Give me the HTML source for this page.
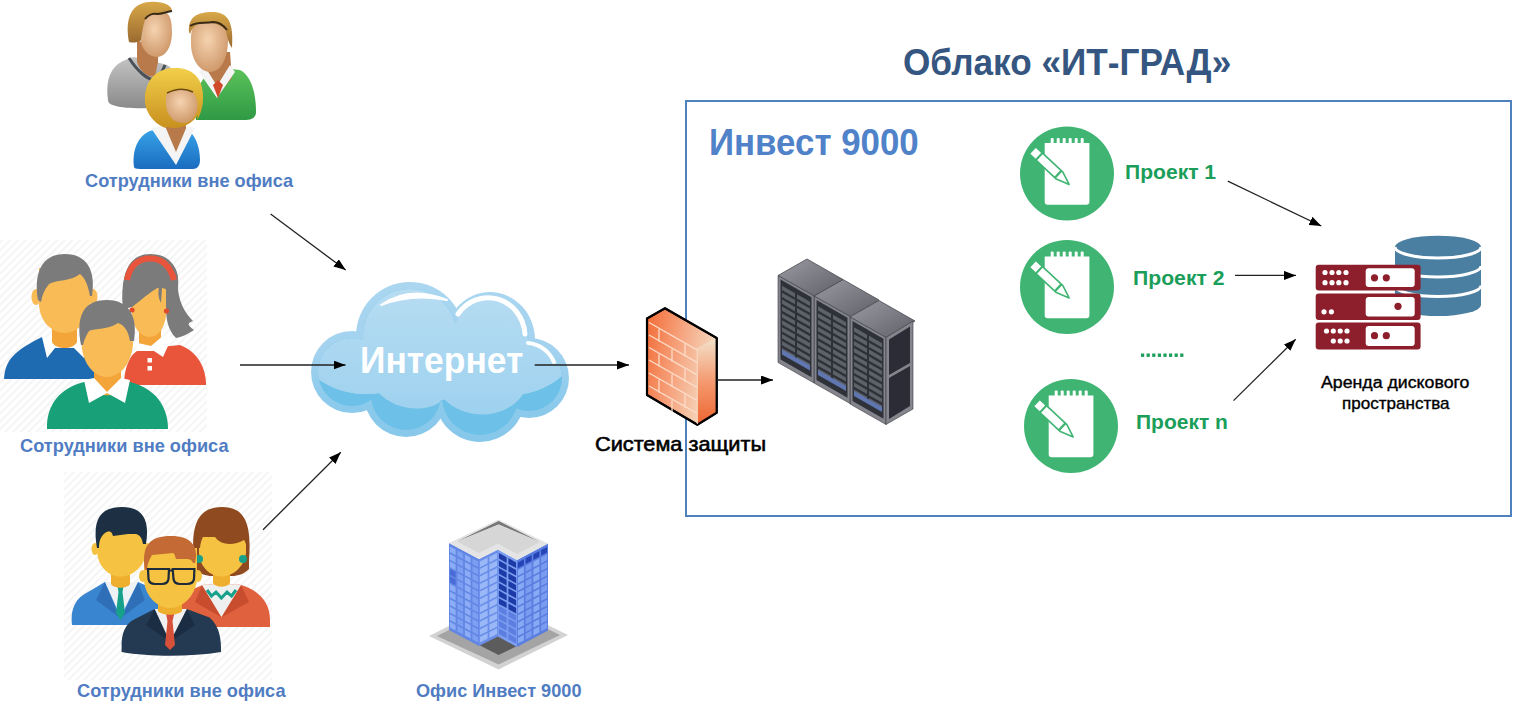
<!DOCTYPE html>
<html><head><meta charset="utf-8">
<style>
html,body{margin:0;padding:0;background:#fff;}
body{width:1513px;height:714px;position:relative;overflow:hidden;font-family:"Liberation Sans",sans-serif;}
svg.g{position:absolute;left:0;top:0;}
.t{position:absolute;white-space:pre;line-height:1;transform-origin:0 0;}
</style></head><body>
<svg class="g" width="1513" height="714" viewBox="0 0 1513 714">
<defs>
<marker id="ah" markerUnits="userSpaceOnUse" markerWidth="13" markerHeight="9" refX="12" refY="4.5" orient="auto">
  <path d="M0,0 L12,4.5 L0,9 z" fill="#000"/>
</marker>
<pattern id="stripes" patternUnits="userSpaceOnUse" width="5.5" height="5.5" patternTransform="rotate(45)">
  <rect width="5.5" height="5.5" fill="#fff"/><rect width="2.2" height="5.5" fill="#f5f5f5"/>
</pattern>
<linearGradient id="cloudBody" gradientUnits="userSpaceOnUse" x1="0" y1="290" x2="0" y2="420">
  <stop offset="0" stop-color="#b6dcf2"/><stop offset="1" stop-color="#9dd1ef"/>
</linearGradient>
<linearGradient id="cloudRim" gradientUnits="userSpaceOnUse" x1="0" y1="282" x2="0" y2="443">
  <stop offset="0" stop-color="#aad6f0"/><stop offset="0.45" stop-color="#a2d2ef"/><stop offset="0.7" stop-color="#8ecbec"/><stop offset="1" stop-color="#86c7ea"/>
</linearGradient>
<linearGradient id="fwFront" x1="0" y1="0" x2="1" y2="0.3">
  <stop offset="0" stop-color="#f26a34"/><stop offset="0.55" stop-color="#f6a884"/><stop offset="1" stop-color="#f4d9c0"/>
</linearGradient>
<linearGradient id="fwSide" x1="0" y1="0" x2="0" y2="1">
  <stop offset="0" stop-color="#f3e3cc"/><stop offset="0.5" stop-color="#f49a70"/><stop offset="1" stop-color="#ee6530"/>
</linearGradient>
<linearGradient id="rackTop" x1="0" y1="0" x2="1" y2="1">
  <stop offset="0" stop-color="#9a9aa2"/><stop offset="1" stop-color="#5f6068"/>
</linearGradient>
<linearGradient id="bldL" x1="0" y1="0" x2="0" y2="1">
  <stop offset="0" stop-color="#84a6f0"/><stop offset="1" stop-color="#4f74d8"/>
</linearGradient>
<linearGradient id="bldR" x1="0" y1="0" x2="0" y2="1">
  <stop offset="0" stop-color="#7c9eee"/><stop offset="1" stop-color="#4a6fd6"/>
</linearGradient>
<linearGradient id="grayShirt" x1="0" y1="0" x2="0" y2="1">
  <stop offset="0" stop-color="#c4c4c4"/><stop offset="1" stop-color="#8a8a8a"/>
</linearGradient>
<linearGradient id="greenShirt" x1="0" y1="0" x2="0" y2="1">
  <stop offset="0" stop-color="#5cc25a"/><stop offset="1" stop-color="#2f9a45"/>
</linearGradient>
<linearGradient id="blueShirt" x1="0" y1="0" x2="0" y2="1">
  <stop offset="0" stop-color="#3aa6ea"/><stop offset="1" stop-color="#1a6cc0"/>
</linearGradient>
<radialGradient id="skin" cx="0.45" cy="0.4" r="0.6">
  <stop offset="0" stop-color="#f5d3b0"/><stop offset="1" stop-color="#d09a6c"/>
</radialGradient>
<linearGradient id="hairBrown" x1="0" y1="0" x2="0" y2="1">
  <stop offset="0" stop-color="#d8a848"/><stop offset="1" stop-color="#9a6a30"/>
</linearGradient>
<linearGradient id="hairBlonde" x1="0" y1="0" x2="0" y2="1">
  <stop offset="0" stop-color="#f2cf4a"/><stop offset="1" stop-color="#c8901e"/>
</linearGradient>
</defs>
<rect x="686" y="101" width="825" height="415" fill="none" stroke="#4f81bd" stroke-width="2"/>
<rect x="0" y="240" width="207" height="192" fill="url(#stripes)"/>
<rect x="64" y="472" width="208" height="208" fill="url(#stripes)"/>
<g transform="translate(1067,173.5)"><circle r="47" fill="#40b573"/><path d="M-22.3,-30.5 H22.4 V28.2 Q22.4,31.2 19.4,31.2 H-19.3 Q-22.3,31.2 -22.3,28.2 Z" fill="#fff"/><rect x="-16.3" y="-35.6" width="3" height="6" rx="1.2" fill="#fff"/><rect x="-10.3" y="-35.6" width="3" height="6" rx="1.2" fill="#fff"/><rect x="-4.3" y="-35.6" width="3" height="6" rx="1.2" fill="#fff"/><rect x="1.7" y="-35.6" width="3" height="6" rx="1.2" fill="#fff"/><rect x="7.7" y="-35.6" width="3" height="6" rx="1.2" fill="#fff"/><rect x="13.7" y="-35.6" width="3" height="6" rx="1.2" fill="#fff"/><g transform="translate(-34.4,-23.2) rotate(43.1)"><path d="M0,-4.8 H37 L50,0 L37,4.8 H0 Z" fill="#fff" stroke="#40b573" stroke-width="1.6" stroke-linejoin="round"/><path d="M9,-4.8 V4.8" stroke="#40b573" stroke-width="2"/><path d="M35,-4.8 V4.8" stroke="#40b573" stroke-width="2.4"/></g></g>
<g transform="translate(1067,287)"><circle r="47" fill="#40b573"/><path d="M-22.3,-30.5 H22.4 V28.2 Q22.4,31.2 19.4,31.2 H-19.3 Q-22.3,31.2 -22.3,28.2 Z" fill="#fff"/><rect x="-16.3" y="-35.6" width="3" height="6" rx="1.2" fill="#fff"/><rect x="-10.3" y="-35.6" width="3" height="6" rx="1.2" fill="#fff"/><rect x="-4.3" y="-35.6" width="3" height="6" rx="1.2" fill="#fff"/><rect x="1.7" y="-35.6" width="3" height="6" rx="1.2" fill="#fff"/><rect x="7.7" y="-35.6" width="3" height="6" rx="1.2" fill="#fff"/><rect x="13.7" y="-35.6" width="3" height="6" rx="1.2" fill="#fff"/><g transform="translate(-34.4,-23.2) rotate(43.1)"><path d="M0,-4.8 H37 L50,0 L37,4.8 H0 Z" fill="#fff" stroke="#40b573" stroke-width="1.6" stroke-linejoin="round"/><path d="M9,-4.8 V4.8" stroke="#40b573" stroke-width="2"/><path d="M35,-4.8 V4.8" stroke="#40b573" stroke-width="2.4"/></g></g>
<g transform="translate(1071,426)"><circle r="47" fill="#40b573"/><path d="M-22.3,-30.5 H22.4 V28.2 Q22.4,31.2 19.4,31.2 H-19.3 Q-22.3,31.2 -22.3,28.2 Z" fill="#fff"/><rect x="-16.3" y="-35.6" width="3" height="6" rx="1.2" fill="#fff"/><rect x="-10.3" y="-35.6" width="3" height="6" rx="1.2" fill="#fff"/><rect x="-4.3" y="-35.6" width="3" height="6" rx="1.2" fill="#fff"/><rect x="1.7" y="-35.6" width="3" height="6" rx="1.2" fill="#fff"/><rect x="7.7" y="-35.6" width="3" height="6" rx="1.2" fill="#fff"/><rect x="13.7" y="-35.6" width="3" height="6" rx="1.2" fill="#fff"/><g transform="translate(-34.4,-23.2) rotate(43.1)"><path d="M0,-4.8 H37 L50,0 L37,4.8 H0 Z" fill="#fff" stroke="#40b573" stroke-width="1.6" stroke-linejoin="round"/><path d="M9,-4.8 V4.8" stroke="#40b573" stroke-width="2"/><path d="M35,-4.8 V4.8" stroke="#40b573" stroke-width="2.4"/></g></g>
<g fill="#4a7fa1"><rect x="1395" y="247" width="86" height="58"/><ellipse cx="1438" cy="247" rx="43" ry="11.3"/><ellipse cx="1438" cy="305" rx="43" ry="11"/></g>
<path d="M1395,247 A43,11 0 0 0 1481,247" fill="none" stroke="#fff" stroke-width="3"/>
<path d="M1395,266 A43,11 0 0 0 1481,266" fill="none" stroke="#fff" stroke-width="3"/>
<path d="M1395,285.5 A43,11 0 0 0 1481,285.5" fill="none" stroke="#fff" stroke-width="3"/>
<rect x="1315.7" y="264.7" width="104.9" height="25.9" rx="3" fill="#8c1f2b"/>
<rect x="1365.7" y="268.2" width="49" height="18.9" rx="3" fill="#fff"/>
<rect x="1315.7" y="293.5" width="104.9" height="26.5" rx="3" fill="#8c1f2b"/>
<rect x="1365.7" y="297.0" width="49" height="19.5" rx="3" fill="#fff"/>
<rect x="1315.7" y="322.4" width="104.9" height="27.0" rx="3" fill="#8c1f2b"/>
<rect x="1365.7" y="325.9" width="49" height="20.0" rx="3" fill="#fff"/>
<circle cx="1374.5" cy="277.8" r="3.6" fill="#8c1f2b"/>
<circle cx="1386.3" cy="277.8" r="3.6" fill="#8c1f2b"/>
<circle cx="1398" cy="306.3" r="3.6" fill="#8c1f2b"/>
<circle cx="1374.5" cy="335.7" r="3.6" fill="#8c1f2b"/>
<circle cx="1386.3" cy="335.7" r="3.6" fill="#8c1f2b"/>
<circle cx="1325" cy="272.5" r="2.6" fill="#fff"/>
<circle cx="1332" cy="272.5" r="2.6" fill="#fff"/>
<circle cx="1338.8" cy="272.5" r="2.6" fill="#fff"/>
<circle cx="1346" cy="272.5" r="2.6" fill="#fff"/>
<circle cx="1325" cy="282.7" r="2.6" fill="#fff"/>
<circle cx="1332" cy="282.7" r="2.6" fill="#fff"/>
<circle cx="1338.8" cy="282.7" r="2.6" fill="#fff"/>
<circle cx="1346" cy="282.7" r="2.6" fill="#fff"/>
<circle cx="1324" cy="311.8" r="2.6" fill="#fff"/>
<circle cx="1331.4" cy="311.8" r="2.6" fill="#fff"/>
<circle cx="1326.5" cy="331" r="2.6" fill="#fff"/>
<circle cx="1333.3" cy="331" r="2.6" fill="#fff"/>
<circle cx="1340.2" cy="331" r="2.6" fill="#fff"/>
<circle cx="1347" cy="331" r="2.6" fill="#fff"/>
<circle cx="1333.3" cy="341" r="2.6" fill="#fff"/>
<circle cx="1340.2" cy="341" r="2.6" fill="#fff"/>
<circle cx="1347" cy="341" r="2.6" fill="#fff"/>
<rect x="1141.0" y="353.5" width="3.2" height="3.4" fill="#1a9e5a"/>
<rect x="1146.6" y="353.5" width="3.2" height="3.4" fill="#1a9e5a"/>
<rect x="1152.2" y="353.5" width="3.2" height="3.4" fill="#1a9e5a"/>
<rect x="1157.8" y="353.5" width="3.2" height="3.4" fill="#1a9e5a"/>
<rect x="1163.4" y="353.5" width="3.2" height="3.4" fill="#1a9e5a"/>
<rect x="1169.0" y="353.5" width="3.2" height="3.4" fill="#1a9e5a"/>
<rect x="1174.6" y="353.5" width="3.2" height="3.4" fill="#1a9e5a"/>
<rect x="1180.2" y="353.5" width="3.2" height="3.4" fill="#1a9e5a"/>
<clipPath id="cloudClip"><ellipse cx="410" cy="336" rx="47" ry="47"/><ellipse cx="490" cy="340" rx="38" ry="41"/><ellipse cx="529" cy="378" rx="33" ry="33"/><ellipse cx="352" cy="372" rx="34" ry="34"/><ellipse cx="406" cy="395" rx="35" ry="35"/><ellipse cx="480" cy="397" rx="38" ry="38"/><rect x="350" y="345" width="180" height="55"/></clipPath>
<g fill="url(#cloudRim)" ><ellipse cx="410" cy="336" rx="54" ry="54"/><ellipse cx="490" cy="340" rx="45" ry="48"/><ellipse cx="529" cy="378" rx="40" ry="40"/><ellipse cx="352" cy="372" rx="41" ry="41"/><ellipse cx="406" cy="395" rx="42" ry="42"/><ellipse cx="480" cy="397" rx="45" ry="45"/><rect x="357" y="345" width="180" height="55"/></g>
<g fill="#6dc0e7" ><ellipse cx="410" cy="336" rx="47" ry="47"/><ellipse cx="490" cy="340" rx="38" ry="41"/><ellipse cx="529" cy="378" rx="33" ry="33"/><ellipse cx="352" cy="372" rx="34" ry="34"/><ellipse cx="406" cy="395" rx="35" ry="35"/><ellipse cx="480" cy="397" rx="38" ry="38"/><rect x="350" y="345" width="180" height="55"/></g>
<clipPath id="bodyClip"><path d="M300,250 L300,360 C316,386 350,398 379,393 C396,411 428,414 444,399 C464,420 505,421 523,394 C540,392 560,382 575,362 L575,250 Z"/></clipPath>
<g clip-path="url(#bodyClip)"><g fill="url(#cloudBody)" ><ellipse cx="410" cy="336" rx="47" ry="47"/><ellipse cx="490" cy="340" rx="38" ry="41"/><ellipse cx="529" cy="378" rx="33" ry="33"/><ellipse cx="352" cy="372" rx="34" ry="34"/><ellipse cx="406" cy="395" rx="35" ry="35"/><ellipse cx="480" cy="397" rx="38" ry="38"/><rect x="350" y="345" width="180" height="55"/></g></g>
<path d="M381,305 Q410,285 447,300 Q412,293 381,305 Z" fill="#fff" stroke="#fff" stroke-width="2" stroke-linejoin="round"/>
<path d="M458,314 A37,39 0 0 1 525,334" fill="none" stroke="#fff" stroke-width="5" stroke-linecap="round"/>
<path d="M528,343 A31,31 0 0 1 554,362" fill="none" stroke="#fff" stroke-width="4" stroke-linecap="round"/>
<g stroke="#000" stroke-width="2" stroke-linejoin="round">
<path d="M647,318.5 L665,308.3 L716.7,338 L716.7,412.7 L697.3,424.7 L647,395 Z" fill="url(#fwFront)"/>
</g>
<path d="M697.3,348 L716.7,338 L716.7,412.7 L697.3,424.7 Z" fill="url(#fwSide)"/>
<path d="M647,318.5 L665,308.3 L716.7,338 L716.7,412.7 L697.3,424.7 L647,395 Z" fill="none" stroke="#000" stroke-width="2.2" stroke-linejoin="round"/>
<path d="M649,322.5 L697,349.9 M649,335 L697,362.4 M649,347.5 L697,374.9 M649,360 L697,387.4 M649,373 L697,400.4 M649,386 L697,413.4 M659,329.3 L659,341.8 M685,344.2 L685,356.7 M672,349.2 L672,361.8 M659,354.3 L659,366.8 M685,369.2 L685,381.7 M672,374.2 L672,387.2 M659,379.8 L659,392.8 M685,394.7 L685,407.7 M672,400.2 L672,412.2" stroke="#fcdcc8" stroke-width="1.3" fill="none"/>
<path d="M697.3,348 L697.3,424" stroke="#f9dcc6" stroke-width="1"/>
<path d="M850,317 L879,300.5 L915,321.0 L886,337.5 Z" fill="url(#rackTop)" stroke="#4a4a52" stroke-width="0.8"/><path d="M850,317 L886,337.5 L886,424.5 L850,404 Z" fill="#84858c" stroke="#3a3a40" stroke-width="0.6"/><path d="M852.5,321 L883.5,338.7 L883.5,418.7 L852.5,401 Z" fill="#2e3138"/><path d="M854.0,327.3 l13,7.4 v4.2 l-13,-7.4 Z" fill="#5d6168"/><path d="M869.0,335.8 l13,7.4 v4.2 l-13,-7.4 Z" fill="#5d6168"/><path d="M854.0,334.2 l13,7.4 v4.2 l-13,-7.4 Z" fill="#5d6168"/><path d="M869.0,342.7 l13,7.4 v4.2 l-13,-7.4 Z" fill="#5d6168"/><path d="M854.0,341.1 l13,7.4 v4.2 l-13,-7.4 Z" fill="#5d6168"/><path d="M869.0,349.6 l13,7.4 v4.2 l-13,-7.4 Z" fill="#5d6168"/><path d="M854.0,348.0 l13,7.4 v4.2 l-13,-7.4 Z" fill="#5d6168"/><path d="M869.0,356.5 l13,7.4 v4.2 l-13,-7.4 Z" fill="#5d6168"/><path d="M854.0,354.9 l13,7.4 v4.2 l-13,-7.4 Z" fill="#5d6168"/><path d="M869.0,363.4 l13,7.4 v4.2 l-13,-7.4 Z" fill="#5d6168"/><path d="M854.0,361.8 l13,7.4 v4.2 l-13,-7.4 Z" fill="#5d6168"/><path d="M869.0,370.3 l13,7.4 v4.2 l-13,-7.4 Z" fill="#5d6168"/><path d="M854.0,368.7 l13,7.4 v4.2 l-13,-7.4 Z" fill="#5d6168"/><path d="M869.0,377.2 l13,7.4 v4.2 l-13,-7.4 Z" fill="#5d6168"/><path d="M854.0,375.6 l13,7.4 v4.2 l-13,-7.4 Z" fill="#5d6168"/><path d="M869.0,384.1 l13,7.4 v4.2 l-13,-7.4 Z" fill="#5d6168"/><path d="M854.0,382.5 l13,7.4 v4.2 l-13,-7.4 Z" fill="#5d6168"/><path d="M869.0,391.0 l13,7.4 v4.2 l-13,-7.4 Z" fill="#5d6168"/><path d="M854.0,389.4 l13,7.4 v4.2 l-13,-7.4 Z" fill="#5d6168"/><path d="M869.0,397.9 l13,7.4 v4.2 l-13,-7.4 Z" fill="#5d6168"/><path d="M854.0,391 L882.0,407.0 v5 L854.0,396 Z" fill="#5f76b0"/>
<path d="M814,296 L843,279.5 L879,300.0 L850,316.5 Z" fill="url(#rackTop)" stroke="#4a4a52" stroke-width="0.8"/><path d="M814,296 L850,316.5 L850,403.5 L814,383 Z" fill="#84858c" stroke="#3a3a40" stroke-width="0.6"/><path d="M816.5,300 L847.5,317.7 L847.5,397.7 L816.5,380 Z" fill="#2e3138"/><path d="M818.0,306.3 l13,7.4 v4.2 l-13,-7.4 Z" fill="#5d6168"/><path d="M833.0,314.8 l13,7.4 v4.2 l-13,-7.4 Z" fill="#5d6168"/><path d="M818.0,313.2 l13,7.4 v4.2 l-13,-7.4 Z" fill="#5d6168"/><path d="M833.0,321.7 l13,7.4 v4.2 l-13,-7.4 Z" fill="#5d6168"/><path d="M818.0,320.1 l13,7.4 v4.2 l-13,-7.4 Z" fill="#5d6168"/><path d="M833.0,328.6 l13,7.4 v4.2 l-13,-7.4 Z" fill="#5d6168"/><path d="M818.0,327.0 l13,7.4 v4.2 l-13,-7.4 Z" fill="#5d6168"/><path d="M833.0,335.5 l13,7.4 v4.2 l-13,-7.4 Z" fill="#5d6168"/><path d="M818.0,333.9 l13,7.4 v4.2 l-13,-7.4 Z" fill="#5d6168"/><path d="M833.0,342.4 l13,7.4 v4.2 l-13,-7.4 Z" fill="#5d6168"/><path d="M818.0,340.8 l13,7.4 v4.2 l-13,-7.4 Z" fill="#5d6168"/><path d="M833.0,349.3 l13,7.4 v4.2 l-13,-7.4 Z" fill="#5d6168"/><path d="M818.0,347.7 l13,7.4 v4.2 l-13,-7.4 Z" fill="#5d6168"/><path d="M833.0,356.2 l13,7.4 v4.2 l-13,-7.4 Z" fill="#5d6168"/><path d="M818.0,354.6 l13,7.4 v4.2 l-13,-7.4 Z" fill="#5d6168"/><path d="M833.0,363.1 l13,7.4 v4.2 l-13,-7.4 Z" fill="#5d6168"/><path d="M818.0,361.5 l13,7.4 v4.2 l-13,-7.4 Z" fill="#5d6168"/><path d="M833.0,370.0 l13,7.4 v4.2 l-13,-7.4 Z" fill="#5d6168"/><path d="M818.0,368.4 l13,7.4 v4.2 l-13,-7.4 Z" fill="#5d6168"/><path d="M833.0,376.9 l13,7.4 v4.2 l-13,-7.4 Z" fill="#5d6168"/><path d="M818.0,370 L846.0,386.0 v5 L818.0,375 Z" fill="#5f76b0"/>
<path d="M778,275.5 L807,259.0 L843,279.5 L814,296.0 Z" fill="url(#rackTop)" stroke="#4a4a52" stroke-width="0.8"/><path d="M778,275.5 L814,296.0 L814,383.0 L778,362.5 Z" fill="#84858c" stroke="#3a3a40" stroke-width="0.6"/><path d="M780.5,279.5 L811.5,297.2 L811.5,377.2 L780.5,359.5 Z" fill="#2e3138"/><path d="M782.0,285.8 l13,7.4 v4.2 l-13,-7.4 Z" fill="#5d6168"/><path d="M797.0,294.3 l13,7.4 v4.2 l-13,-7.4 Z" fill="#5d6168"/><path d="M782.0,292.7 l13,7.4 v4.2 l-13,-7.4 Z" fill="#5d6168"/><path d="M797.0,301.2 l13,7.4 v4.2 l-13,-7.4 Z" fill="#5d6168"/><path d="M782.0,299.6 l13,7.4 v4.2 l-13,-7.4 Z" fill="#5d6168"/><path d="M797.0,308.1 l13,7.4 v4.2 l-13,-7.4 Z" fill="#5d6168"/><path d="M782.0,306.5 l13,7.4 v4.2 l-13,-7.4 Z" fill="#5d6168"/><path d="M797.0,315.0 l13,7.4 v4.2 l-13,-7.4 Z" fill="#5d6168"/><path d="M782.0,313.4 l13,7.4 v4.2 l-13,-7.4 Z" fill="#5d6168"/><path d="M797.0,321.9 l13,7.4 v4.2 l-13,-7.4 Z" fill="#5d6168"/><path d="M782.0,320.3 l13,7.4 v4.2 l-13,-7.4 Z" fill="#5d6168"/><path d="M797.0,328.8 l13,7.4 v4.2 l-13,-7.4 Z" fill="#5d6168"/><path d="M782.0,327.2 l13,7.4 v4.2 l-13,-7.4 Z" fill="#5d6168"/><path d="M797.0,335.7 l13,7.4 v4.2 l-13,-7.4 Z" fill="#5d6168"/><path d="M782.0,334.1 l13,7.4 v4.2 l-13,-7.4 Z" fill="#5d6168"/><path d="M797.0,342.6 l13,7.4 v4.2 l-13,-7.4 Z" fill="#5d6168"/><path d="M782.0,341.0 l13,7.4 v4.2 l-13,-7.4 Z" fill="#5d6168"/><path d="M797.0,349.5 l13,7.4 v4.2 l-13,-7.4 Z" fill="#5d6168"/><path d="M782.0,347.9 l13,7.4 v4.2 l-13,-7.4 Z" fill="#5d6168"/><path d="M797.0,356.4 l13,7.4 v4.2 l-13,-7.4 Z" fill="#5d6168"/><path d="M782.0,349.5 L810.0,365.5 v5 L782.0,354.5 Z" fill="#5f76b0"/>
<path d="M886,337.5 L913,321 L913,409 L886,424.5 Z" fill="#85868d" stroke="#3a3a40" stroke-width="0.6"/>
<path d="M889,339.5 L910,326.5 L910,363 L889,375 Z" fill="#2c2c36"/>
<path d="M889,378 L910,366 L910,406 L889,419 Z" fill="#2c2c36"/>
<path d="M429,636 L498.6,601 L568,635 L498.6,669.5 Z" fill="#d2d2d2"/>
<path d="M437,636 L498.6,605 L560,635 L498.6,664.5 Z" fill="#a4a4a4"/>
<path d="M479,645 L498,635.5 L517,646 L498.6,655 Z" fill="#5c5c5c"/>
<path d="M449,543 L479,559 L479,646 L449,630 Z" fill="#6286e4"/><path d="M449.9,546.4 L455.6,549.4 v5.7 L449.9,552.1 Z" fill="#8cadf6"/><path d="M457.4,550.4 L463.1,553.4 v5.7 L457.4,556.1 Z" fill="#7c9ff2"/><path d="M464.9,554.4 L470.6,557.4 v5.7 L464.9,560.1 Z" fill="#8cadf6"/><path d="M472.4,558.4 L478.1,561.4 v5.7 L472.4,564.1 Z" fill="#7c9ff2"/><path d="M449.9,553.9 L455.6,557.0 v5.7 L449.9,559.7 Z" fill="#8cadf6"/><path d="M457.4,557.9 L463.1,561.0 v5.7 L457.4,563.7 Z" fill="#7c9ff2"/><path d="M464.9,561.9 L470.6,565.0 v5.7 L464.9,567.7 Z" fill="#8cadf6"/><path d="M472.4,565.9 L478.1,569.0 v5.7 L472.4,571.7 Z" fill="#7c9ff2"/><path d="M449.9,561.5 L455.6,564.5 v5.7 L449.9,567.2 Z" fill="#8cadf6"/><path d="M457.4,565.5 L463.1,568.5 v5.7 L457.4,571.2 Z" fill="#7c9ff2"/><path d="M464.9,569.5 L470.6,572.5 v5.7 L464.9,575.2 Z" fill="#8cadf6"/><path d="M472.4,573.5 L478.1,576.5 v5.7 L472.4,579.2 Z" fill="#7c9ff2"/><path d="M449.9,569.0 L455.6,572.1 v5.7 L449.9,574.8 Z" fill="#4a6cd8"/><path d="M457.4,573.0 L463.1,576.1 v5.7 L457.4,578.8 Z" fill="#7c9ff2"/><path d="M464.9,577.0 L470.6,580.1 v5.7 L464.9,582.8 Z" fill="#8cadf6"/><path d="M472.4,581.0 L478.1,584.1 v5.7 L472.4,586.8 Z" fill="#7c9ff2"/><path d="M449.9,576.6 L455.6,579.6 v5.7 L449.9,582.3 Z" fill="#4a6cd8"/><path d="M457.4,580.6 L463.1,583.6 v5.7 L457.4,586.3 Z" fill="#7c9ff2"/><path d="M464.9,584.6 L470.6,587.6 v5.7 L464.9,590.3 Z" fill="#8cadf6"/><path d="M472.4,588.6 L478.1,591.6 v5.7 L472.4,594.3 Z" fill="#7c9ff2"/><path d="M449.9,584.1 L455.6,587.1 v5.7 L449.9,589.9 Z" fill="#8cadf6"/><path d="M457.4,588.1 L463.1,591.1 v5.7 L457.4,593.9 Z" fill="#7c9ff2"/><path d="M464.9,592.1 L470.6,595.1 v5.7 L464.9,597.9 Z" fill="#8cadf6"/><path d="M472.4,596.1 L478.1,599.1 v5.7 L472.4,601.9 Z" fill="#7c9ff2"/><path d="M449.9,591.7 L455.6,594.7 v5.7 L449.9,597.4 Z" fill="#8cadf6"/><path d="M457.4,595.7 L463.1,598.7 v5.7 L457.4,601.4 Z" fill="#7c9ff2"/><path d="M464.9,599.7 L470.6,602.7 v5.7 L464.9,605.4 Z" fill="#8cadf6"/><path d="M472.4,603.7 L478.1,606.7 v5.7 L472.4,609.4 Z" fill="#7c9ff2"/><path d="M449.9,599.2 L455.6,602.2 v5.7 L449.9,604.9 Z" fill="#8cadf6"/><path d="M457.4,603.2 L463.1,606.2 v5.7 L457.4,608.9 Z" fill="#7c9ff2"/><path d="M464.9,607.2 L470.6,610.2 v5.7 L464.9,612.9 Z" fill="#8cadf6"/><path d="M472.4,611.2 L478.1,614.2 v5.7 L472.4,616.9 Z" fill="#7c9ff2"/><path d="M449.9,606.7 L455.6,609.8 v5.7 L449.9,612.5 Z" fill="#8cadf6"/><path d="M457.4,610.7 L463.1,613.8 v5.7 L457.4,616.5 Z" fill="#7c9ff2"/><path d="M464.9,614.7 L470.6,617.8 v5.7 L464.9,620.5 Z" fill="#8cadf6"/><path d="M472.4,618.7 L478.1,621.8 v5.7 L472.4,624.5 Z" fill="#7c9ff2"/><path d="M449.9,614.3 L455.6,617.3 v5.7 L449.9,620.0 Z" fill="#8cadf6"/><path d="M457.4,618.3 L463.1,621.3 v5.7 L457.4,624.0 Z" fill="#7c9ff2"/><path d="M464.9,622.3 L470.6,625.3 v5.7 L464.9,628.0 Z" fill="#8cadf6"/><path d="M472.4,626.3 L478.1,629.3 v5.7 L472.4,632.0 Z" fill="#7c9ff2"/><path d="M449.9,621.8 L455.6,624.9 v5.7 L449.9,627.6 Z" fill="#8cadf6"/><path d="M457.4,625.8 L463.1,628.9 v5.7 L457.4,631.6 Z" fill="#7c9ff2"/><path d="M464.9,629.8 L470.6,632.9 v5.7 L464.9,635.6 Z" fill="#8cadf6"/><path d="M472.4,633.8 L478.1,636.9 v5.7 L472.4,639.6 Z" fill="#7c9ff2"/>
<path d="M479,559 L498,549.5 L498,636.5 L479,646 Z" fill="#6a8ee8"/><path d="M479.9,561.4 L487.6,557.6 v5.7 L479.9,567.2 Z" fill="#9ab8f8"/><path d="M489.4,556.7 L497.1,552.9 v5.7 L489.4,562.4 Z" fill="#9ab8f8"/><path d="M479.9,569.0 L487.6,565.1 v5.7 L479.9,574.7 Z" fill="#9ab8f8"/><path d="M489.4,564.2 L497.1,560.4 v5.7 L489.4,570.0 Z" fill="#9ab8f8"/><path d="M479.9,576.5 L487.6,572.7 v5.7 L479.9,582.3 Z" fill="#9ab8f8"/><path d="M489.4,571.8 L497.1,567.9 v5.7 L489.4,577.5 Z" fill="#9ab8f8"/><path d="M479.9,584.1 L487.6,580.2 v5.7 L479.9,589.8 Z" fill="#9ab8f8"/><path d="M489.4,579.3 L497.1,575.5 v5.7 L489.4,585.1 Z" fill="#9ab8f8"/><path d="M479.9,591.6 L487.6,587.8 v5.7 L479.9,597.4 Z" fill="#9ab8f8"/><path d="M489.4,586.9 L497.1,583.0 v5.7 L489.4,592.6 Z" fill="#9ab8f8"/><path d="M479.9,599.2 L487.6,595.3 v5.7 L479.9,604.9 Z" fill="#9ab8f8"/><path d="M489.4,594.4 L497.1,590.6 v5.7 L489.4,600.2 Z" fill="#9ab8f8"/><path d="M479.9,606.7 L487.6,602.9 v5.7 L479.9,612.5 Z" fill="#9ab8f8"/><path d="M489.4,602.0 L497.1,598.1 v5.7 L489.4,607.7 Z" fill="#9ab8f8"/><path d="M479.9,614.3 L487.6,610.4 v5.7 L479.9,620.0 Z" fill="#9ab8f8"/><path d="M489.4,609.5 L497.1,605.7 v5.7 L489.4,615.3 Z" fill="#9ab8f8"/><path d="M479.9,621.8 L487.6,618.0 v5.7 L479.9,627.6 Z" fill="#9ab8f8"/><path d="M489.4,617.1 L497.1,613.2 v5.7 L489.4,622.8 Z" fill="#9ab8f8"/><path d="M479.9,629.4 L487.6,625.5 v5.7 L479.9,635.1 Z" fill="#9ab8f8"/><path d="M489.4,624.6 L497.1,620.8 v5.7 L489.4,630.4 Z" fill="#9ab8f8"/><path d="M479.9,636.9 L487.6,633.1 v5.7 L479.9,642.6 Z" fill="#9ab8f8"/><path d="M489.4,632.2 L497.1,628.3 v5.7 L489.4,637.9 Z" fill="#9ab8f8"/>
<path d="M498,549.5 L517,560 L517,647 L498,636.5 Z" fill="#7c9ef0"/><path d="M498.9,552.9 L506.6,557.2 v5.7 L498.9,558.6 Z" fill="#1e3aa6"/><path d="M508.4,558.1 L516.1,562.4 v5.7 L508.4,563.9 Z" fill="#1e3aa6"/><path d="M498.9,560.4 L506.6,564.7 v5.7 L498.9,566.2 Z" fill="#1e3aa6"/><path d="M508.4,565.7 L516.1,569.9 v5.7 L508.4,571.4 Z" fill="#1e3aa6"/><path d="M498.9,568.0 L506.6,572.2 v5.7 L498.9,573.7 Z" fill="#1e3aa6"/><path d="M508.4,573.2 L516.1,577.5 v5.7 L508.4,579.0 Z" fill="#1e3aa6"/><path d="M498.9,575.5 L506.6,579.8 v5.7 L498.9,581.3 Z" fill="#1e3aa6"/><path d="M508.4,580.8 L516.1,585.0 v5.7 L508.4,586.5 Z" fill="#1e3aa6"/><path d="M498.9,583.1 L506.6,587.3 v5.7 L498.9,588.8 Z" fill="#1e3aa6"/><path d="M508.4,588.3 L516.1,592.6 v5.7 L508.4,594.1 Z" fill="#1e3aa6"/><path d="M498.9,590.6 L506.6,594.9 v5.7 L498.9,596.4 Z" fill="#1e3aa6"/><path d="M508.4,595.9 L516.1,600.1 v5.7 L508.4,601.6 Z" fill="#1e3aa6"/><path d="M498.9,598.2 L506.6,602.4 v5.7 L498.9,603.9 Z" fill="#1e3aa6"/><path d="M508.4,603.4 L516.1,607.7 v5.7 L508.4,609.2 Z" fill="#1e3aa6"/><path d="M498.9,605.7 L506.6,610.0 v5.7 L498.9,611.5 Z" fill="#5c7ee0"/><path d="M508.4,611.0 L516.1,615.2 v5.7 L508.4,616.7 Z" fill="#5c7ee0"/><path d="M498.9,613.3 L506.6,617.5 v5.7 L498.9,619.0 Z" fill="#5c7ee0"/><path d="M508.4,618.5 L516.1,622.8 v5.7 L508.4,624.3 Z" fill="#5c7ee0"/><path d="M498.9,620.8 L506.6,625.1 v5.7 L498.9,626.6 Z" fill="#5c7ee0"/><path d="M508.4,626.1 L516.1,630.3 v5.7 L508.4,631.8 Z" fill="#5c7ee0"/><path d="M498.9,628.4 L506.6,632.6 v5.7 L498.9,634.1 Z" fill="#5c7ee0"/><path d="M508.4,633.6 L516.1,637.9 v5.7 L508.4,639.3 Z" fill="#5c7ee0"/>
<path d="M517,560 L548,543.5 L548,630.5 L517,647 Z" fill="#5a7ee0"/><path d="M517.9,562.4 L523.9,559.3 v5.7 L517.9,568.2 Z" fill="#2444b8"/><path d="M525.6,558.3 L531.6,555.1 v5.7 L525.6,564.0 Z" fill="#2444b8"/><path d="M533.4,554.2 L539.4,551.0 v5.7 L533.4,559.9 Z" fill="#2444b8"/><path d="M541.1,550.0 L547.1,546.9 v5.7 L541.1,555.8 Z" fill="#2444b8"/><path d="M517.9,570.0 L523.9,566.8 v5.7 L517.9,575.7 Z" fill="#88aaf4"/><path d="M525.6,565.8 L531.6,562.7 v5.7 L525.6,571.6 Z" fill="#7a9cf0"/><path d="M533.4,561.7 L539.4,558.5 v5.7 L533.4,567.5 Z" fill="#88aaf4"/><path d="M541.1,557.6 L547.1,554.4 v5.7 L541.1,563.3 Z" fill="#7a9cf0"/><path d="M517.9,577.5 L523.9,574.3 v5.7 L517.9,583.3 Z" fill="#88aaf4"/><path d="M525.6,573.4 L531.6,570.2 v5.7 L525.6,579.1 Z" fill="#7a9cf0"/><path d="M533.4,569.3 L539.4,566.1 v5.7 L533.4,575.0 Z" fill="#88aaf4"/><path d="M541.1,565.1 L547.1,562.0 v5.7 L541.1,570.9 Z" fill="#7a9cf0"/><path d="M517.9,585.1 L523.9,581.9 v5.7 L517.9,590.8 Z" fill="#88aaf4"/><path d="M525.6,580.9 L531.6,577.8 v5.7 L525.6,586.7 Z" fill="#7a9cf0"/><path d="M533.4,576.8 L539.4,573.6 v5.7 L533.4,582.6 Z" fill="#88aaf4"/><path d="M541.1,572.7 L547.1,569.5 v5.7 L541.1,578.4 Z" fill="#7a9cf0"/><path d="M517.9,592.6 L523.9,589.4 v5.7 L517.9,598.3 Z" fill="#88aaf4"/><path d="M525.6,588.5 L531.6,585.3 v5.7 L525.6,594.2 Z" fill="#7a9cf0"/><path d="M533.4,584.4 L539.4,581.2 v5.7 L533.4,590.1 Z" fill="#88aaf4"/><path d="M541.1,580.2 L547.1,577.1 v5.7 L541.1,586.0 Z" fill="#7a9cf0"/><path d="M517.9,600.1 L523.9,597.0 v5.7 L517.9,605.9 Z" fill="#88aaf4"/><path d="M525.6,596.0 L531.6,592.9 v5.7 L525.6,601.8 Z" fill="#7a9cf0"/><path d="M533.4,591.9 L539.4,588.7 v5.7 L533.4,597.6 Z" fill="#88aaf4"/><path d="M541.1,587.8 L547.1,584.6 v5.7 L541.1,593.5 Z" fill="#7a9cf0"/><path d="M517.9,607.7 L523.9,604.5 v5.7 L517.9,613.4 Z" fill="#88aaf4"/><path d="M525.6,603.6 L531.6,600.4 v5.7 L525.6,609.3 Z" fill="#7a9cf0"/><path d="M533.4,599.4 L539.4,596.3 v5.7 L533.4,605.2 Z" fill="#88aaf4"/><path d="M541.1,595.3 L547.1,592.2 v5.7 L541.1,601.1 Z" fill="#7a9cf0"/><path d="M517.9,615.2 L523.9,612.1 v5.7 L517.9,621.0 Z" fill="#88aaf4"/><path d="M525.6,611.1 L531.6,607.9 v5.7 L525.6,616.9 Z" fill="#7a9cf0"/><path d="M533.4,607.0 L539.4,603.8 v5.7 L533.4,612.7 Z" fill="#88aaf4"/><path d="M541.1,602.9 L547.1,599.7 v5.7 L541.1,608.6 Z" fill="#7a9cf0"/><path d="M517.9,622.8 L523.9,619.6 v5.7 L517.9,628.5 Z" fill="#88aaf4"/><path d="M525.6,618.7 L531.6,615.5 v5.7 L525.6,624.4 Z" fill="#7a9cf0"/><path d="M533.4,614.5 L539.4,611.4 v5.7 L533.4,620.3 Z" fill="#88aaf4"/><path d="M541.1,610.4 L547.1,607.2 v5.7 L541.1,616.2 Z" fill="#7a9cf0"/><path d="M517.9,630.3 L523.9,627.2 v5.7 L517.9,636.1 Z" fill="#88aaf4"/><path d="M525.6,626.2 L531.6,623.0 v5.7 L525.6,632.0 Z" fill="#7a9cf0"/><path d="M533.4,622.1 L539.4,618.9 v5.7 L533.4,627.8 Z" fill="#88aaf4"/><path d="M541.1,618.0 L547.1,614.8 v5.7 L541.1,623.7 Z" fill="#7a9cf0"/><path d="M517.9,637.9 L523.9,634.7 v5.7 L517.9,643.6 Z" fill="#88aaf4"/><path d="M525.6,633.8 L531.6,630.6 v5.7 L525.6,639.5 Z" fill="#7a9cf0"/><path d="M533.4,629.6 L539.4,626.5 v5.7 L533.4,635.4 Z" fill="#88aaf4"/><path d="M541.1,625.5 L547.1,622.3 v5.7 L541.1,631.2 Z" fill="#7a9cf0"/>
<path d="M498.6,519.5 L449,543 L479,559 L498,549.5 L517,560 L548,543.5 Z" fill="#e4e4e4"/>
<path d="M498.6,521 L457,541.5 L498.6,524.5 L540,542 Z" fill="#777"/>
<path d="M498.6,524.5 L457,541.5 L479,553 L498,543.5 L517,554 L540,542 Z" fill="#d6d6d6"/>

<path d="M108,100 C106,85 108,72 118,64 C124,60 129,58 134,57 L164,64 C172,66 178,75 178,90 L178,106 C155,109 125,109 116,106 C111,105 108,103 108,100 Z" fill="url(#grayShirt)"/>
<path d="M137,40 L137,62 C141,74 150,78 155,76 L158,62 L158,50 Z" fill="#b87a4a"/>
<path d="M129,58 C138,72 148,80 155,80 C160,78 163,70 165,65" stroke="#4a5058" stroke-width="3" fill="none"/>
<path d="M142,22 C142,12 152,11 160,11 C170,11 172,20 172,32 C172,48 165,57 157,57 C148,57 141,48 140,38 Z" fill="url(#skin)"/>
<ellipse cx="140" cy="35" rx="4.5" ry="6.5" fill="#dcb48e"/>
<path d="M129,42 C125,20 130,3 150,2 C162,1 172,5 172,11 C168,12 162,14 157,13 C152,14 148,16 145,20 C143,26 142,32 141,40 C137,43 133,43 129,42 Z" fill="url(#hairBrown)"/>
<path d="M145,19 C148,15 153,13 157,14 C162,14 166,12 172,11" stroke="#3a2a18" stroke-width="2" fill="none"/>

<path d="M196,120 C193,95 198,80 212,72 L222,68 L240,70 C252,76 256,95 256,112 C256,117 252,120 246,120 Z" fill="url(#greenShirt)"/>
<path d="M204,52 L204,78 L218,95 L232,78 L230,52 Z" fill="#b87a4a"/>
<path d="M199,72 L217,98 L235,72 L230,65 L217,86 L204,65 Z" fill="#f4f4f4"/>
<path d="M213,85 L218,98 L223,85 L218,80 Z" fill="#d04a2a"/>
<path d="M191,38 C191,22 200,18 210,18 C222,18 228,26 228,40 C228,58 221,72 210,72 C199,72 191,58 191,44 Z" fill="url(#skin)"/>
<path d="M189,32 C188,18 196,12 212,12 C228,12 234,22 232,48 C229,44 227,38 226,30 C220,24 210,21 198,24 C194,26 191,30 190,34 Z" fill="url(#hairBrown)"/>
<path d="M190,26 C198,21 205,24 213,22 C219,22 224,26 227,30" stroke="#3a2a18" stroke-width="2" fill="none"/>

<path d="M134,167 C132,150 138,136 150,131 L165,127 L185,128 C196,134 200,148 200,160 C200,166 197,169 193,169 L140,169 C136,169 134,168 134,167 Z" fill="url(#blueShirt)"/>
<path d="M166,110 L166,130 L176,163 L186,130 L186,110 Z" fill="#b87a4a"/>
<path d="M151,128 L176,165 L195,128 L187,126 L176,152 L165,126 Z" fill="#f4f4f4"/>
<ellipse cx="174" cy="98" rx="29" ry="30" fill="url(#hairBlonde)"/>
<path d="M166,96 C166,88 174,88 182,88 C192,88 198,94 198,102 C198,115 192,123 183,123 C173,123 166,114 166,104 Z" fill="url(#skin)"/>
<path d="M145,100 C145,78 158,68 176,68 C194,68 203,80 203,96 C203,108 200,116 197,120 C199,108 198,98 193,92 C185,88 175,89 167,93 C164,102 163,115 166,128 C154,124 145,112 145,100 Z" fill="url(#hairBlonde)"/>
<path d="M167,93 C175,89 185,88 193,92" stroke="#6a4a10" stroke-width="1.6" fill="none"/>


<path d="M4,379 C5,360 14,351 42,337 L88,337 C92,345 96,360 96,379 Z" fill="#1f6bb1"/>
<path d="M42,337 L47,358 L55,348 L74,348 L84,358 L88,337 Z" fill="#fff"/>
<path d="M52,320 L52,342 C56,350 73,350 77,342 L77,320 Z" fill="#f3a53a"/>
<ellipse cx="36" cy="297" rx="4.5" ry="8" fill="#f8bb56"/><ellipse cx="93" cy="297" rx="4.5" ry="8" fill="#f8bb56"/>
<path d="M39,268 L39,305 C40,322 52,333 64.5,333 C77,333 89,322 90,305 L90,268 Z" fill="#f8bb56"/>
<path d="M38,300 C34,275 40,254 65,254 C88,254 96,272 92,296 L90,296 C88,285 85,278 80,274 C70,282 58,279 49,284 C44,290 42,296 41,302 Z" fill="#7b7b7b"/>

<path d="M124,385 C124,368 130,355 137,351 L160,347 L180,345 C198,352 206,368 206,385 Z" fill="#e9553b"/>
<path d="M123,310 C120,275 128,254 150,254 C172,254 180,270 178,290 C180,305 186,314 193,321 C188,323 186,324 194,330 C186,335 182,337 176,338 C168,330 166,320 166,306 L132,306 Z" fill="#7b7b7b"/>
<path d="M139,325 L139,344 C143,350 157,350 161,344 L161,325 Z" fill="#f3a53a"/>
<path d="M135,351 L154,351 L163,357 L172,337 L164,335 L151,346 L138,343 Z" fill="#fff"/>
<rect x="147.5" y="358" width="4.5" height="4.5" fill="#fff"/><rect x="147.5" y="366" width="4.5" height="4.5" fill="#fff"/>
<path d="M132,288 L132,315 C133,328 141,337 149.5,337 C158,337 165,328 166,315 L166,288 Z" fill="#f8bb56"/>
<path d="M123,302 C122,270 130,256 150,256 C170,256 180,268 178,285 L177,304 C173,294 168,289 162,288 L161,303 C158,297 158,292 159,287 C150,292 141,300 132,307 L123,309 Z" fill="#7b7b7b"/>
<path d="M127,280 C130,265 139,258.5 150,258.5 C161,258.5 170,265 174,280" stroke="#e8553c" stroke-width="6" fill="none"/>
<circle cx="132" cy="310" r="2.6" fill="#e04a2a"/><circle cx="166.5" cy="311" r="2.6" fill="#e04a2a"/>

<path d="M47,429 C46,405 60,388 84,382 L130,382 C154,388 168,405 168,429 Z" fill="#18a079"/>
<path d="M94,366 L94,390 C98,397 116,397 121,390 L121,366 Z" fill="#f3a53a"/>
<path d="M84,380 L89,403 L107,393 L125,403 L130,380 L121,378 L107,392 L94,378 Z" fill="#fff"/>
<path d="M81.6,320 L81.6,345 C83,365 95,377 107,377 C119,377 131,365 133,345 L133,320 Z" fill="#f8bb56"/>
<path d="M81,345 C76,318 82,300 107,300 C130,300 138,318 134,341 L130,341 C128,330 124,325 118,323 C108,330 96,328 89,331 C86,336 84,340 83,345 Z" fill="#7b7b7b"/>


<path d="M72,625 C70,608 76,598 88,592 L105,582 L138,582 L152,588 C158,598 160,610 160,625 Z" fill="#3a85d0"/>
<path d="M105,582 L96,600 L119,617 Z M138,582 L145,600 L122,617 Z" fill="#2e6fb8"/>
<path d="M105,582 L120.5,617 L138,582 Z" fill="#eef2f5"/>
<path d="M117,583 L124,583 L122.5,592 L125,613 L120.5,620 L116,613 L118.5,592 Z" fill="#17a08a"/>
<path d="M111,568 L111,584 C114,589 127,589 130,584 L130,568 Z" fill="#eeae2e"/>
<ellipse cx="95" cy="549" rx="3.5" ry="6" fill="#f5c242"/><ellipse cx="147" cy="549" rx="3.5" ry="6" fill="#f5c242"/>
<path d="M97,522 L97,552 C98,566 108,576.5 120.5,576.5 C133,576.5 145,566 146,552 L146,522 Z" fill="#f5c242"/>
<path d="M97,548 C92,520 100,507 122,507 C143,507 150,520 146,544 L143,544 C142,538 140,535 136,534 L128,534 L113,536 C112,532 110,530 105,533 C100,537 99,542 99,548 Z" fill="#1d2f42"/>

<path d="M182,627 L182,602 C186,592 196,587 204,584.7 L240,584.7 C256,589 270,600 270,620 L270,627 Z" fill="#e0613e"/>
<path d="M202,585 L195,602 L221,617 Z M241,585 L249,602 L222,617 Z" fill="#c84c2e"/>
<path d="M202,585 L221.4,617 L241,585 Z" fill="#eef0f0"/>
<path d="M207,590 L211.5,596 L216,592 L221.4,598 L227,592 L231.5,596 L236,590" stroke="#17a08a" stroke-width="3" fill="none"/>
<path d="M194,560 C190,522 200,507 222,507 C244,507 252,522 249,560 L249,569 C244,574 238,576 232,576 L212,576 C206,576 200,574 196,569 Z" fill="#8f4a1f"/>
<path d="M213,566 L213,583 C216,588 227,588 230,583 L230,566 Z" fill="#eeae2e"/>
<path d="M199,537 L199,553 C200,567 210,576.5 221.4,576.5 C233,576.5 244,567 246,553 L246,537 Z" fill="#f5c242"/>
<path d="M196,548 C194,520 204,509 222,509 C240,509 250,520 249,548 L247,548 C246,544 245,541 244,540 C232,547 217,545 213,533 C212,530 211,528 211,527 C205,532 201,538 200,548 Z" fill="#8f4a1f"/>
<circle cx="199" cy="559" r="4" fill="#17a08a"/><circle cx="243" cy="559" r="4" fill="#17a08a"/>

<path d="M121.6,648 C121,632 126,624 134,619.5 L154.7,609 L186.8,609 L209.5,617.6 C217,624 221,634 221,648 L221,652 C190,657 150,657 121.6,652 Z" fill="#243a52"/>
<path d="M154.7,609 L146,625 L170,642 Z M186.8,609 L195,625 L170,642 Z" fill="#1b2d42"/>
<path d="M154.7,609 L170,642 L186.8,609 Z" fill="#f0f0f0"/>
<path d="M165.5,611 L175,611 L172.5,621 L175,645 L170,650 L165,645 L167.5,621 Z" fill="#d6503a"/>
<path d="M158,594 L158,611 C162,616 178,616 182,611 L182,594 Z" fill="#eeae2e"/>
<ellipse cx="143" cy="576" rx="4" ry="6" fill="#f5c242"/><ellipse cx="198" cy="576" rx="4" ry="6" fill="#f5c242"/>
<path d="M144,548 L144,580 C145,596 157,608 170,608 C183,608 195,596 197,580 L197,548 Z" fill="#f5c242"/>
<path d="M145,570 C141,545 150,536 171,536 C191,536 199,546 195,563 L193,563 C192,560 190,559 186,559 L176,559 C175,555 174,553 173,553 L152,555 C149,560 147,565 147,570 Z" fill="#c36a35"/>
<path d="M148,569 L169,569 L168.5,579 C168,582 166,584 162,584 L155,584 C151,584 149,582 148.5,579 Z M172.7,569 L194.4,569 L194,579 C193.5,582 191,584 187,584 L180,584 C176,584 174,582 173.5,579 Z M169,570.5 L172.7,570.5" stroke="#1d2b3a" stroke-width="2.2" fill="none"/>

<g stroke="#222" stroke-width="1.3" fill="none" marker-end="url(#ah)">
<line x1="270.6" y1="214" x2="345.7" y2="270"/>
<line x1="240" y1="365" x2="345.5" y2="365"/>
<line x1="263" y1="529.7" x2="340.8" y2="452.3"/>
<line x1="534.7" y1="365" x2="629" y2="365"/>
<line x1="717" y1="380" x2="773" y2="380"/>
<line x1="1227.8" y1="181.2" x2="1321.3" y2="226"/>
<line x1="1235" y1="275.4" x2="1296" y2="275.4"/>
<line x1="1233.5" y1="400.6" x2="1295.7" y2="339.2"/>
</g>
</svg>
<span class="t" style="left:902.59px;top:44.99px;font-size:36.63px;transform:scaleX(0.9604);color:#355680;font-weight:bold;">Облако «ИТ-ГРАД»</span>
<span class="t" style="left:708.56px;top:125.07px;font-size:36.77px;transform:scaleX(0.9481);color:#4f82c8;font-weight:bold;">Инвест 9000</span>
<span class="t" style="left:85.27px;top:171.55px;font-size:18.60px;transform:scaleX(0.9780);color:#4f7cc2;font-weight:bold;">Сотрудники вне офиса</span>
<span class="t" style="left:20.17px;top:436.55px;font-size:18.60px;transform:scaleX(0.9795);color:#4f7cc2;font-weight:bold;">Сотрудники вне офиса</span>
<span class="t" style="left:77.17px;top:681.55px;font-size:18.60px;transform:scaleX(0.9795);color:#4f7cc2;font-weight:bold;">Сотрудники вне офиса</span>
<span class="t" style="left:416.27px;top:681.55px;font-size:18.60px;transform:scaleX(0.9762);color:#4f7cc2;font-weight:bold;">Офис Инвест 9000</span>
<span class="t" style="left:359.52px;top:341.53px;font-size:37.35px;transform:scaleX(0.9476);color:#fff;font-weight:bold;">Интернет</span>
<span class="t" style="left:595.13px;top:434.28px;font-size:20.93px;transform:scaleX(1.0378);color:#000;font-weight:normal;-webkit-text-stroke:0.6px #000;">Система защиты</span>
<span class="t" style="left:1125.22px;top:162.08px;font-size:20.93px;transform:scaleX(1.0076);color:#1a9e5a;font-weight:bold;">Проект 1</span>
<span class="t" style="left:1133.32px;top:268.27px;font-size:20.35px;transform:scaleX(1.0412);color:#1a9e5a;font-weight:bold;">Проект 2</span>
<span class="t" style="left:1136.23px;top:412.00px;font-size:20.49px;transform:scaleX(1.0254);color:#1a9e5a;font-weight:bold;">Проект n</span>
<span class="t" style="left:1321.48px;top:374.52px;font-size:15.63px;transform:scaleX(1.1351);color:#000;font-weight:normal;-webkit-text-stroke:0.35px #000;">Аренда дискового</span>
<span class="t" style="left:1341.98px;top:395.62px;font-size:16.57px;transform:scaleX(1.0295);color:#000;font-weight:normal;-webkit-text-stroke:0.35px #000;">пространства</span>
</body></html>
